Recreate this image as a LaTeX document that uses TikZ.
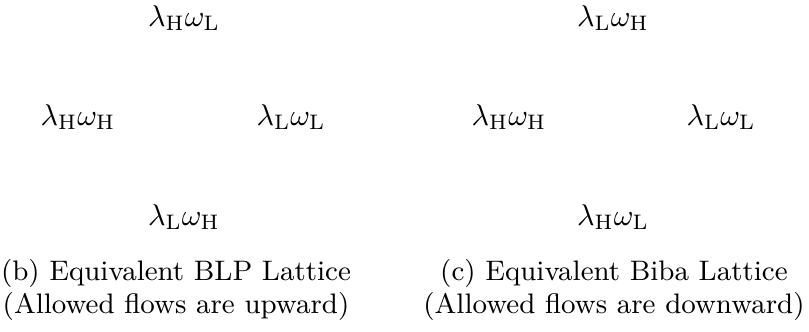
\documentclass[tikz,border=0pt]{standalone}
\usepackage{amsmath}
\begin{document}
\begin{tikzpicture}[x=0.3333pt,y=-0.3333pt,
  lab/.style={inner sep=0pt,anchor=center},
  captxt/.style={inner sep=0pt,align=center,font=\fontsize{9.4pt}{11pt}\selectfont}]
\useasboundingbox (0,0) rectangle (809,331);
% BLP lattice
\node[lab] (b1) at (184,18) {$\lambda_{\mathrm{H}}\omega_{\mathrm{L}}$};
\node[lab] (b2) at (78,117) {$\lambda_{\mathrm{H}}\omega_{\mathrm{H}}$};
\node[lab] (b3) at (291,117) {$\lambda_{\mathrm{L}}\omega_{\mathrm{L}}$};
\node[lab] (b4) at (184,217) {$\lambda_{\mathrm{L}}\omega_{\mathrm{H}}$};
% Biba lattice
\node[lab] (c1) at (613,18) {$\lambda_{\mathrm{L}}\omega_{\mathrm{H}}$};
\node[lab] (c2) at (509,117) {$\lambda_{\mathrm{H}}\omega_{\mathrm{H}}$};
\node[lab] (c3) at (721,117) {$\lambda_{\mathrm{L}}\omega_{\mathrm{L}}$};
\node[lab] (c4) at (613,217) {$\lambda_{\mathrm{H}}\omega_{\mathrm{L}}$};
% captions
\node[captxt] (capb) at (176,290) {(b) Equivalent BLP Lattice\\(Allowed flows are upward)};
\node[captxt] (capc) at (614,290) {(c) Equivalent Biba Lattice\\(Allowed flows are downward)};
\end{tikzpicture}
\end{document}
